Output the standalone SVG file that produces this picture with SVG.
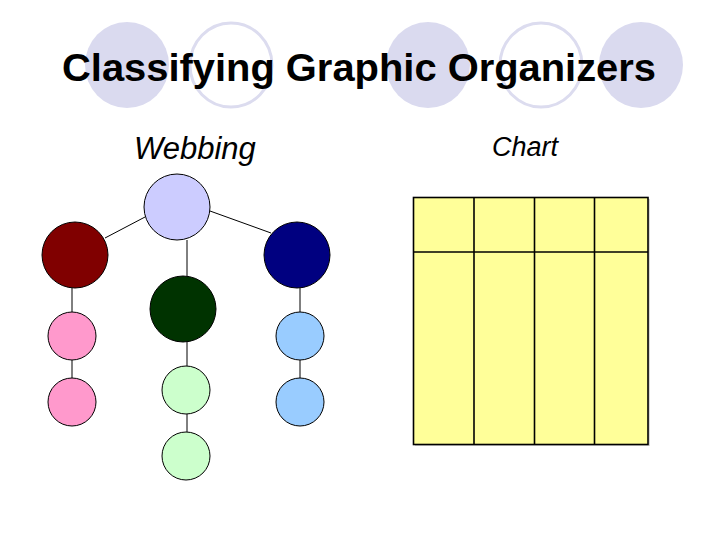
<svg xmlns="http://www.w3.org/2000/svg" width="720" height="540" viewBox="0 0 720 540">
<style>
.bgf{fill:#dadaef;stroke:none}
.bgo{fill:none;stroke:#dcdcef;stroke-width:3}
.n{stroke:#000;stroke-width:1}
.c line{stroke:#000;stroke-width:1}
.cell{fill:#ffff99;stroke:#000;stroke-width:1.6}
.title{font-family:"Liberation Sans",Arial,sans-serif;font-weight:bold;font-size:38px;fill:#000}
.lbl{font-family:"Liberation Sans",Arial,sans-serif;font-style:italic;fill:#000}
</style>
<rect width="720" height="540" fill="#fff"/>
<g id="title-bg">
<ellipse class="bgf" cx="127" cy="65" rx="42" ry="43"/>
<ellipse class="bgo" cx="231" cy="65" rx="41" ry="42"/>
<ellipse class="bgf" cx="428" cy="65" rx="42" ry="43"/>
<ellipse class="bgo" cx="541" cy="65" rx="41" ry="42"/>
<ellipse class="bgf" cx="641" cy="65" rx="42" ry="43"/>
</g>
<text class="title" x="62" y="81" textLength="594" lengthAdjust="spacingAndGlyphs">Classifying Graphic Organizers</text>
<text class="lbl" x="134" y="159" font-size="31">Webbing</text>
<text class="lbl" x="492" y="156" font-size="27">Chart</text>
<g id="connectors" class="c">
<line x1="145" y1="217" x2="105" y2="238"/>
<line x1="210" y1="211" x2="271" y2="233"/>
<line x1="187" y1="240" x2="187" y2="276"/>
<line x1="187" y1="342" x2="187" y2="366"/>
<line x1="187" y1="414" x2="187" y2="432"/>
<line x1="72" y1="288" x2="72" y2="312"/>
<line x1="72" y1="360" x2="72" y2="378"/>
<line x1="300" y1="288" x2="300" y2="312"/>
<line x1="300" y1="360" x2="300" y2="378"/>
</g>
<g id="root"><circle class="n" cx="177" cy="207" r="33" fill="#ccccff"/></g>
<g id="red"><circle class="n" cx="75" cy="255" r="33" fill="#800000"/></g>
<g id="green"><circle class="n" cx="183" cy="309" r="33" fill="#003300"/></g>
<g id="navy"><circle class="n" cx="297" cy="255" r="33" fill="#000080"/></g>
<g id="pink1"><circle class="n" cx="72" cy="336" r="24" fill="#ff99cc"/></g>
<g id="pink2"><circle class="n" cx="72" cy="402" r="24" fill="#ff99cc"/></g>
<g id="lgreen1"><circle class="n" cx="186" cy="390" r="24" fill="#ccffcc"/></g>
<g id="lgreen2"><circle class="n" cx="186" cy="456" r="24" fill="#ccffcc"/></g>
<g id="lblue1"><circle class="n" cx="300" cy="336" r="24" fill="#99ccff"/></g>
<g id="lblue2"><circle class="n" cx="300" cy="402" r="24" fill="#99ccff"/></g>
<g id="chart">
<rect x="415" y="199" width="235" height="247" fill="#b0b0b0" opacity="0.5"/>
<rect class="cell" x="413.5" y="197.5" width="234.5" height="247"/>
<line x1="474" y1="197.5" x2="474" y2="444.5" stroke="#000" stroke-width="1.6"/>
<line x1="534.5" y1="197.5" x2="534.5" y2="444.5" stroke="#000" stroke-width="1.6"/>
<line x1="594.5" y1="197.5" x2="594.5" y2="444.5" stroke="#000" stroke-width="1.6"/>
<line x1="413.5" y1="252" x2="648" y2="252" stroke="#000" stroke-width="1.6"/>
</g>
</svg>
